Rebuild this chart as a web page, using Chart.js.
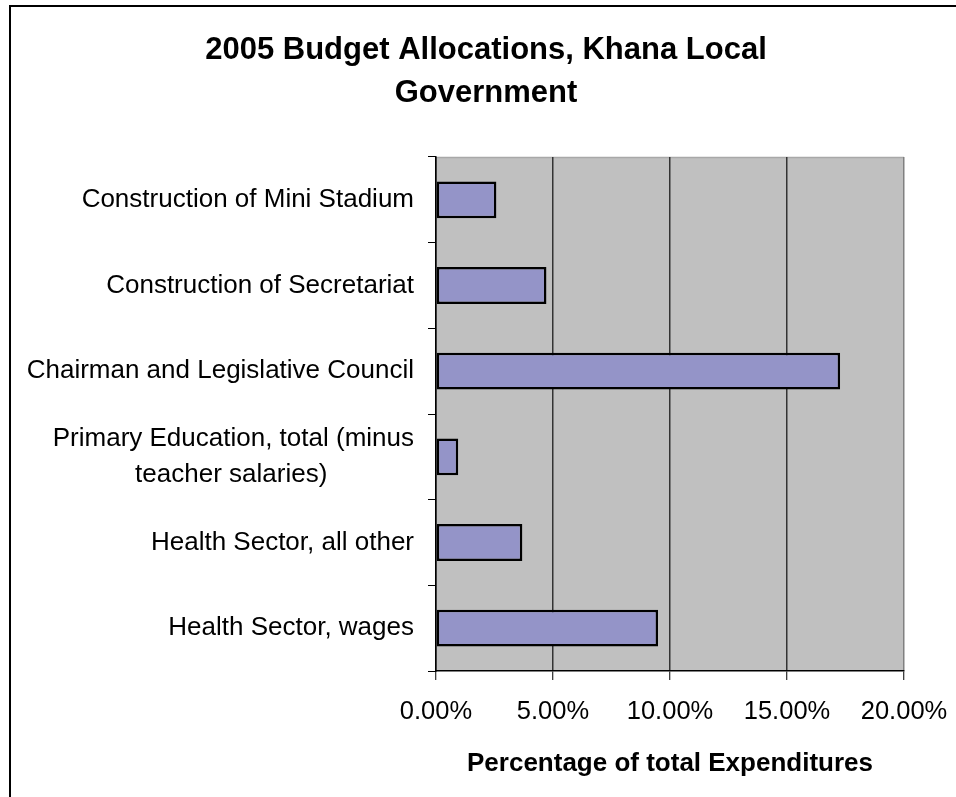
<!DOCTYPE html>
<html>
<head>
<meta charset="utf-8">
<title>2005 Budget Allocations, Khana Local Government</title>
<script src="https://cdn.jsdelivr.net/npm/chart.js@4.4.1/dist/chart.umd.min.js"></script>
<style>
  html, body { margin: 0; padding: 0; background: #fff; }
  #wrap { position: relative; width: 956px; height: 797px; }
</style>
</head>
<body>
<div id="wrap"><canvas id="budgetChart"></canvas></div>
<script>
const categories = [
  'Construction of Mini Stadium',
  'Construction of Secretariat',
  'Chairman and Legislative Council',
  ['Primary Education, total (minus', 'teacher salaries)'],
  'Health Sector, all other',
  'Health Sector, wages'
];
const shares = [2.58, 4.72, 17.27, 0.95, 3.69, 9.49];   // % of total expenditures
const xTicks = [0, 5, 10, 15, 20];
const chartTitle = ['2005 Budget Allocations, Khana Local', 'Government'];
const axisTitle = 'Percentage of total Expenditures';

const FONT = "'Liberation Sans', Arial, Helvetica, sans-serif";
Chart.defaults.font.family = FONT;
Chart.defaults.color = '#000';

// Excel centres the lines of a wrapped label; pad the shorter lines so right-aligned text looks centred
const measure = document.createElement('canvas').getContext('2d');
measure.font = '26px ' + FONT;
function centerLines(label) {
  if (!Array.isArray(label)) return label;
  const widths = label.map(l => measure.measureText(l).width);
  const widest = Math.max(...widths);
  const space = measure.measureText('\u00a0').width;
  return label.map((l, i) => l + '\u00a0'.repeat(Math.round((widest - widths[i]) / 2 / space)));
}

// grey plot area and the chart object's frame
const plotFrame = {
  id: 'plotFrame',
  beforeDraw(chart) {
    const { ctx, chartArea: a } = chart;
    ctx.save();
    ctx.fillStyle = '#fff';
    ctx.fillRect(0, 0, chart.width, chart.height);
    ctx.fillStyle = '#c0c0c0';
    ctx.fillRect(a.left, a.top, a.width, a.height);
    ctx.strokeStyle = '#a8a8a8';
    ctx.lineWidth = 1.5;
    ctx.beginPath();
    ctx.moveTo(a.left, a.top + 0.5);
    ctx.lineTo(a.right, a.top + 0.5);
    ctx.stroke();
    ctx.fillStyle = '#000';
    ctx.fillRect(9, 5, 2, chart.height);
    ctx.fillRect(9, 5, chart.width, 2);
    ctx.restore();
  }
};

const ctx = document.getElementById('budgetChart').getContext('2d');
new Chart(ctx, {
  type: 'bar',
  data: {
    labels: categories,
    datasets: [{
      data: shares,
      backgroundColor: '#9494c8',
      borderColor: '#000',
      borderWidth: 2.5,
      borderSkipped: false,
      categoryPercentage: 0.43,
      barPercentage: 1
    }]
  },
  options: {
    indexAxis: 'y',
    responsive: true,
    maintainAspectRatio: false,
    animation: false,
    layout: { padding: { left: 16, right: 0, top: 0, bottom: 0 } },
    plugins: {
      legend: { display: false },
      tooltip: { enabled: false },
      title: {
        display: true,
        text: chartTitle,
        color: '#000',
        font: { size: 31, weight: 'bold', lineHeight: 43 / 31 },
        padding: { top: 28.5, bottom: 42.5 }
      }
    },
    scales: {
      x: {
        type: 'linear',
        min: 0,
        max: 20,
        afterBuildTicks: s => { s.ticks = xTicks.map(v => ({ value: v })); },
        afterFit: s => { s.height = 126; s.paddingRight = 52; },
        ticks: {
          callback: v => v.toFixed(2) + '%',
          font: { size: 25.5 },
          padding: 17,
          maxRotation: 0
        },
        grid: {
          color: c => (c.index === xTicks.length - 1 ? '#808080' : '#333'),
          lineWidth: 1.5,
          tickLength: 9,
          tickColor: '#000',
          tickWidth: 1
        },
        border: { color: '#000', width: 1.5 },
        title: {
          display: true,
          text: axisTitle,
          font: { size: 26, weight: 'bold' },
          padding: { top: 0, bottom: 18 }
        }
      },
      y: {
        type: 'category',
        afterFit: s => { s.width = 420; },
        ticks: {
          callback: function (value) { return centerLines(this.getLabelForValue(value)); },
          font: { size: 26, lineHeight: 1.35 },
          padding: 14
        },
        grid: {
          offset: true,
          drawOnChartArea: false,
          tickLength: 8,
          color: '#000',
          lineWidth: 1
        },
        border: { color: '#000', width: 1.5 }
      }
    }
  },
  plugins: [plotFrame]
});
</script>
</body>
</html>
